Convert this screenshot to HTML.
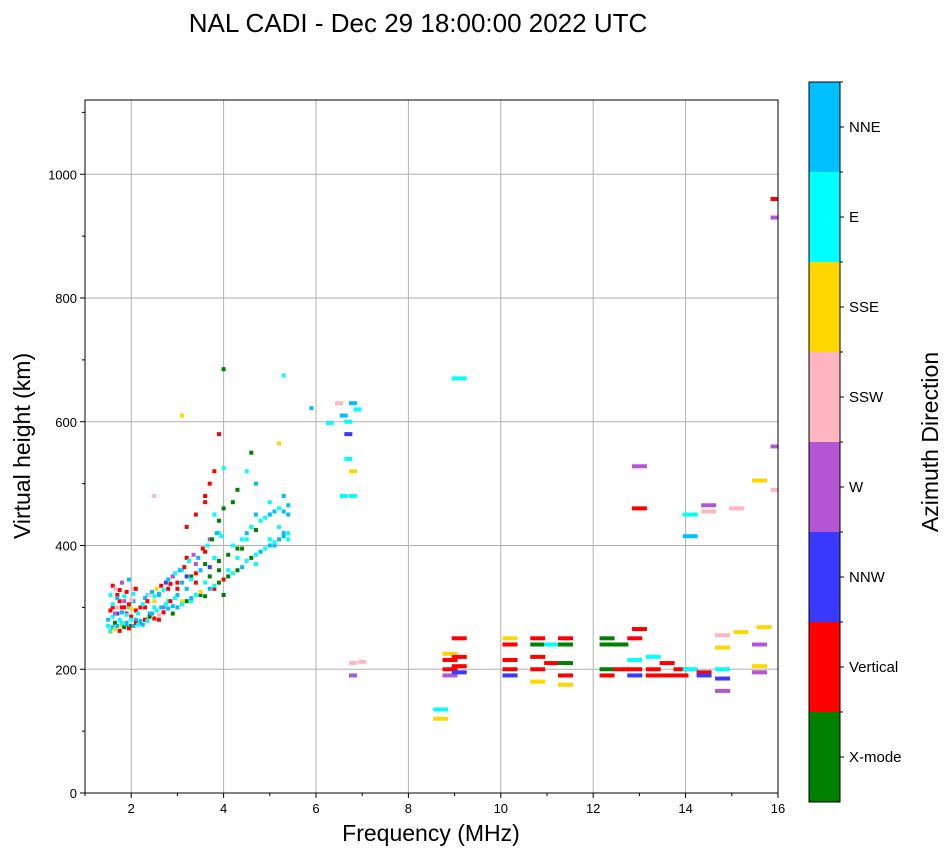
<!DOCTYPE html>
<html><head><meta charset="utf-8"><style>
body{margin:0;background:#fff;font-family:"Liberation Sans",sans-serif}
</style></head><body>
<svg id="chart" width="951" height="856" xmlns="http://www.w3.org/2000/svg" font-family="Liberation Sans, sans-serif">
<defs><clipPath id="pc"><rect x="85" y="100" width="693" height="693"/></clipPath></defs>
<rect width="951" height="856" fill="#fff"/>
<text x="418" y="32" font-size="26" text-anchor="middle">NAL CADI - Dec 29 18:00:00 2022 UTC</text>
<g id="grid"></g><g id="marks" clip-path="url(#pc)"></g><g id="axes"></g><g id="cbar"></g>
<text x="431" y="841" font-size="23" text-anchor="middle">Frequency (MHz)</text>
<text transform="translate(30,446) rotate(-90)" font-size="23" text-anchor="middle">Virtual height (km)</text>
<text transform="translate(938,442) rotate(-90)" font-size="23" text-anchor="middle">Azimuth Direction</text>
</svg>
<script>
const directions=["X-mode","Vertical","NNW","W","SSW","SSE","E","NNE"];
const dirColors=["#008000","#ff0000","#3a3aff","#b455d4","#ffb6c1","#ffd700","#00ffff","#00bfff"];
const xTicks=[2,4,6,8,10,12,14,16];
const yTicks=[0,200,400,600,800,1000];
const freqs=[1.5,1.5,1.55,1.6,1.6,1.65,1.7,1.7,1.75,1.8,1.8,1.85,1.9,1.9,1.95,2.0,2.0,2.05,2.1,2.2,2.3,2.3,2.35,2.4,2.5,2.5,2.6,2.6,2.7,2.8,2.8,2.9,2.9,3.0,3.0,3.1,3.1,3.2,3.2,3.3,3.3,3.4,3.4,3.5,3.5,3.6,3.6,3.7,3.7,3.8,3.8,3.9,3.9,4.0,4.0,4.1,4.2,4.3,4.4,4.5,4.6,4.7,4.8,5.0,5.0,5.1,5.2,5.3,5.4,5.4,2.5,3.8,3.9,4.0,4.6,5.2,5.3,3.1,4.0,3.6,4.2,4.7,
5.9,6.3,6.5,6.6,6.7,6.8,6.9,6.7,6.8,6.6,6.8,6.8,6.8,7.0,6.7,
8.7,8.7,8.9,8.9,8.9,8.9,9.1,9.1,9.1,9.1,9.1,10.2,10.2,10.2,10.2,10.2,10.8,10.8,10.8,10.8,10.8,11.1,11.1,11.4,11.4,11.4,11.4,11.4,12.3,12.3,12.3,12.3,12.6,12.6,12.9,12.9,12.9,12.9,13.0,13.0,13.0,13.3,13.3,13.3,13.6,13.6,13.9,13.9,14.1,14.1,14.1,14.4,14.4,14.5,14.5,14.8,14.8,14.8,14.8,14.8,15.1,15.2,15.6,15.6,15.6,15.6,15.7,16,16,16,16,
1.55,1.6,1.65,1.7,1.75,1.8,1.85,1.9,1.95,2.0,2.05,2.1,2.15,2.2,
1.55,1.6,1.65,1.7,1.75,1.8,1.85,1.9,1.95,2.0,2.05,2.1,2.15,2.2,
1.55,1.6,1.65,1.7,1.75,1.8,1.85,1.9,1.95,2.0,2.05,2.1,
2.25,2.3,2.35,2.4,2.45,2.5,2.55,2.6,2.65,2.7,2.75,2.8,2.85,2.9,2.95,
2.25,2.3,2.35,2.4,2.45,2.5,2.55,2.6,2.65,2.7,2.75,2.8,2.85,2.9,2.95,
3.0,3.1,3.2,3.3,3.4,3.5,3.6,3.7,3.8,3.9,
3.0,3.1,3.2,3.3,3.4,3.5,3.6,3.7,3.8,3.9,
3.05,3.15,3.25,3.35,3.45,3.55,3.65,3.75,3.85,3.95,
4.1,4.2,4.3,4.4,4.5,4.6,4.7,4.8,4.9,5.0,5.1,5.2,5.3,5.4,
4.1,4.2,4.3,4.4,4.5,4.6,4.7,4.8,4.9,5.0,5.1,5.2,5.3,5.4,
3.2,3.4,3.6,3.7,3.8,3.9,4.0,4.3,4.5,4.7,5.0,5.3];
const heights=[270,280,260,300,285,275,320,290,280,300,270,310,290,275,300,285,270,330,280,275,300,280,320,290,300,310,280,320,300,330,310,290,350,320,340,360,310,380,330,350,310,340,370,320,360,390,340,350,410,380,330,360,420,320,345,360,400,380,395,410,430,370,390,410,450,400,430,420,450,410,480,520,580,685,550,565,675,610,525,480,470,500,
622,598,630,610,600,630,620,540,520,480,480,210,190,212,580,
135,120,225,215,200,190,220,205,195,250,670,250,240,215,190,200,250,240,220,200,180,210,240,250,240,210,190,175,250,240,200,190,240,200,250,215,200,190,265,460,528,220,200,190,210,190,200,190,200,415,450,195,190,465,455,235,200,185,165,255,460,260,505,195,240,205,268,960,930,560,490,
262,268,265,270,262,275,268,272,266,280,270,275,272,278,
295,305,290,300,310,292,300,288,305,298,310,295,290,300,
320,335,330,315,328,340,318,325,345,312,322,330,
272,280,278,285,290,282,295,288,300,292,305,298,310,302,315,
305,315,310,320,325,318,330,322,335,328,340,345,338,350,355,
300,305,310,315,320,325,318,330,335,340,
330,340,350,345,355,360,370,365,380,375,
360,365,375,385,380,395,400,410,420,415,
350,355,360,365,375,380,385,390,395,400,405,410,415,420,
385,400,395,410,420,430,425,440,445,450,455,460,455,465,
430,450,470,500,450,440,460,490,520,450,470,480];
const dirs=[6,7,5,1,6,0,1,2,6,1,5,3,1,7,6,1,0,4,7,1,1,0,6,7,6,5,1,7,3,1,6,0,2,7,1,6,5,1,7,0,6,1,3,0,7,1,6,0,3,7,1,0,6,0,1,6,0,6,0,6,0,6,6,6,6,7,6,7,7,6,4,1,1,0,0,5,6,5,6,1,0,7,
7,6,4,7,6,7,6,6,5,6,6,4,3,4,2,
6,5,5,1,1,3,1,1,2,1,6,5,1,1,2,1,1,0,1,1,5,1,6,1,0,0,1,5,0,0,0,1,0,1,1,6,1,2,1,1,3,6,1,1,1,1,1,1,6,7,6,1,2,3,4,5,6,2,3,4,4,5,5,3,3,5,5,1,3,3,4,
6,7,5,7,1,6,0,7,1,6,7,1,6,7,
1,6,3,4,1,7,1,6,1,5,7,1,6,1,
6,1,4,7,1,3,6,1,7,4,6,1,
7,1,6,0,7,1,6,4,7,1,6,7,1,7,6,
6,7,1,4,7,6,5,7,1,6,2,7,1,3,6,
7,6,0,7,6,5,0,7,6,0,
1,7,2,6,1,7,0,2,6,0,
7,1,6,3,7,1,6,0,7,6,
0,6,0,7,6,0,6,7,6,7,6,7,7,6,
0,6,0,6,7,6,0,6,6,7,7,6,7,7,
1,1,1,1,6,0,0,0,6,7,6,7];
const NS="http://www.w3.org/2000/svg";
const X0=85,X1=778,Y0=793,Y1=100;
function xs(f){return X0+(f-1)/(16-1)*(X1-X0);}
function ys(h){return Y0-h/1120*(Y0-Y1);}
function mk(t,a,p){const e=document.createElementNS(NS,t);for(const k in a)e.setAttribute(k,a[k]);p.appendChild(e);return e;}
const grid=document.getElementById('grid'),axes=document.getElementById('axes'),marks=document.getElementById('marks'),cbar=document.getElementById('cbar');
xTicks.forEach(v=>{const x=xs(v);
const g=mk('line',{x1:x,x2:x,y1:Y1,y2:Y0,stroke:'#b0b0b0','stroke-width':1},grid);


mk('line',{x1:x,x2:x,y1:Y0,y2:Y0+5,stroke:'#000'},axes);
const t=mk('text',{x:x,y:Y0+20,'font-size':13,'text-anchor':'middle'},axes);t.textContent=v;

});
for(let v=1;v<=15;v+=2){const x=xs(v);mk('line',{x1:x,x2:x,y1:Y0,y2:Y0+3,stroke:'#000'},axes);}
yTicks.forEach(v=>{const y=ys(v);
const g=mk('line',{x1:X0,x2:X1,y1:y,y2:y,stroke:'#b0b0b0','stroke-width':1},grid);


mk('line',{x1:X0-5,x2:X0,y1:y,y2:y,stroke:'#000'},axes);
const t=mk('text',{x:X0-8,y:y+5,'font-size':13,'text-anchor':'end'},axes);t.textContent=v;

});
for(let v=100;v<=1100;v+=200){const y=ys(v);mk('line',{x1:X0-3,x2:X0,y1:y,y2:y,stroke:'#000'},axes);}
const fr=mk('rect',{x:X0,y:Y1,width:X1-X0,height:Y0-Y1,fill:'none',stroke:'#000'},axes);


for(let i=0;i<freqs.length;i++){const f=freqs[i];const w=f<6?4:(f<8?8:15);const h=f<6?4:4;
const r=mk('rect',{x:xs(f)-w/2,y:ys(heights[i])-h/2,width:w,height:h,fill:dirColors[dirs[i]]},marks);

}
const CX=809,CW=31,CT=82,CB=802,seg=(CB-CT)/directions.length;
directions.forEach((d,i)=>{const y=CB-(i+1)*seg;
const r=mk('rect',{x:CX,y:y,width:CW,height:seg,fill:dirColors[i]},cbar);


mk('line',{x1:CX+CW,x2:CX+CW+4,y1:y+seg/2,y2:y+seg/2,stroke:'#000'},cbar);
mk('line',{x1:CX+CW,x2:CX+CW+3,y1:y,y2:y,stroke:'#000'},cbar);
const t=mk('text',{x:CX+CW+9,y:y+seg/2+5,'font-size':15},cbar);t.textContent=d;

});
mk('rect',{x:CX,y:CT,width:CW,height:CB-CT,fill:'none',stroke:'#000'},cbar);
</script>
</body></html>
